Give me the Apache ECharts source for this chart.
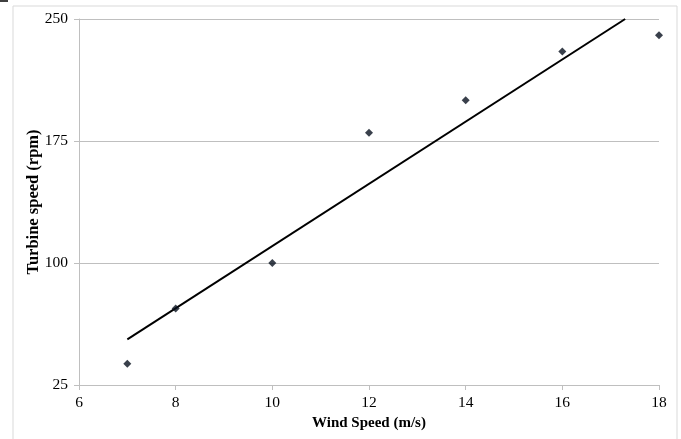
<!DOCTYPE html>
<html>
<head>
<meta charset="utf-8">
<script src="https://cdn.jsdelivr.net/npm/echarts@6/dist/echarts.min.js"></script>
<style>
  html, body { margin: 0; padding: 0; background: #fff; }
  #chart { width: 681px; height: 439px; }
</style>
</head>
<body>
<div id="chart"></div>
<script>
const windSpeed = [7, 8, 10, 12, 14, 16, 18]
const turbineSpeed = [38, 72, 100, 180, 200, 230, 240]
// trend line end points
const trendX = [7, 17.3]
const trendY = [53, 250]

const chart = echarts.init(document.getElementById('chart'))
const serif = '"Liberation Serif", "Times New Roman", serif'

chart.setOption({
  backgroundColor: '#fff',
  animation: false,
  grid: { left: 79, right: 22, top: 19, bottom: 54 },
  graphic: [
    {
      type: 'rect',
      shape: { x: 13, y: 6, width: 664, height: 450 },
      style: { fill: 'none', stroke: '#d9d9d9', lineWidth: 1 },
      silent: true
    },
    {
      type: 'line',
      shape: { x1: 0, y1: 1, x2: 8, y2: 1 },
      style: { stroke: '#000', lineWidth: 1.5 }
    }
  ],
  xAxis: {
    type: 'value',
    min: 6,
    max: 18,
    interval: 2,
    name: 'Wind Speed (m/s)',
    nameLocation: 'middle',
    nameGap: 31,
    nameMoveOverlap: false,
    nameTextStyle: { fontFamily: serif, fontSize: 15, fontWeight: 'bold', color: '#000' },
    axisLine: { lineStyle: { color: '#bfbfbf', width: 1 } },
    axisTick: { show: true, length: 5, lineStyle: { color: '#bfbfbf' } },
    axisLabel: { fontFamily: serif, fontSize: 15.5, color: '#000', margin: 10 },
    splitLine: { show: false }
  },
  yAxis: {
    type: 'value',
    min: 25,
    max: 250,
    interval: 75,
    name: 'Turbine speed (rpm)',
    nameLocation: 'middle',
    nameGap: 37,
    nameMoveOverlap: false,
    nameTextStyle: { fontFamily: serif, fontSize: 16.5, fontWeight: 'bold', color: '#000' },
    axisLine: { show: true, lineStyle: { color: '#bfbfbf', width: 1 } },
    axisTick: { show: true, length: 5, lineStyle: { color: '#bfbfbf' } },
    axisLabel: { fontFamily: serif, fontSize: 15.5, color: '#000', margin: 11 },
    splitLine: { show: true, lineStyle: { color: '#bfbfbf', width: 1 } }
  },
  series: [
    {
      name: 'Trend',
      type: 'line',
      data: trendX.map((x, i) => [x, trendY[i]]),
      symbol: 'none',
      lineStyle: { color: '#000', width: 2 },
      z: 2
    },
    {
      name: 'Turbine speed',
      type: 'scatter',
      data: windSpeed.map((x, i) => [x, turbineSpeed[i]]),
      symbol: 'diamond',
      symbolSize: 8,
      itemStyle: { color: '#08101e' },
      z: 3
    }
  ]
})
</script>
</body>
</html>
